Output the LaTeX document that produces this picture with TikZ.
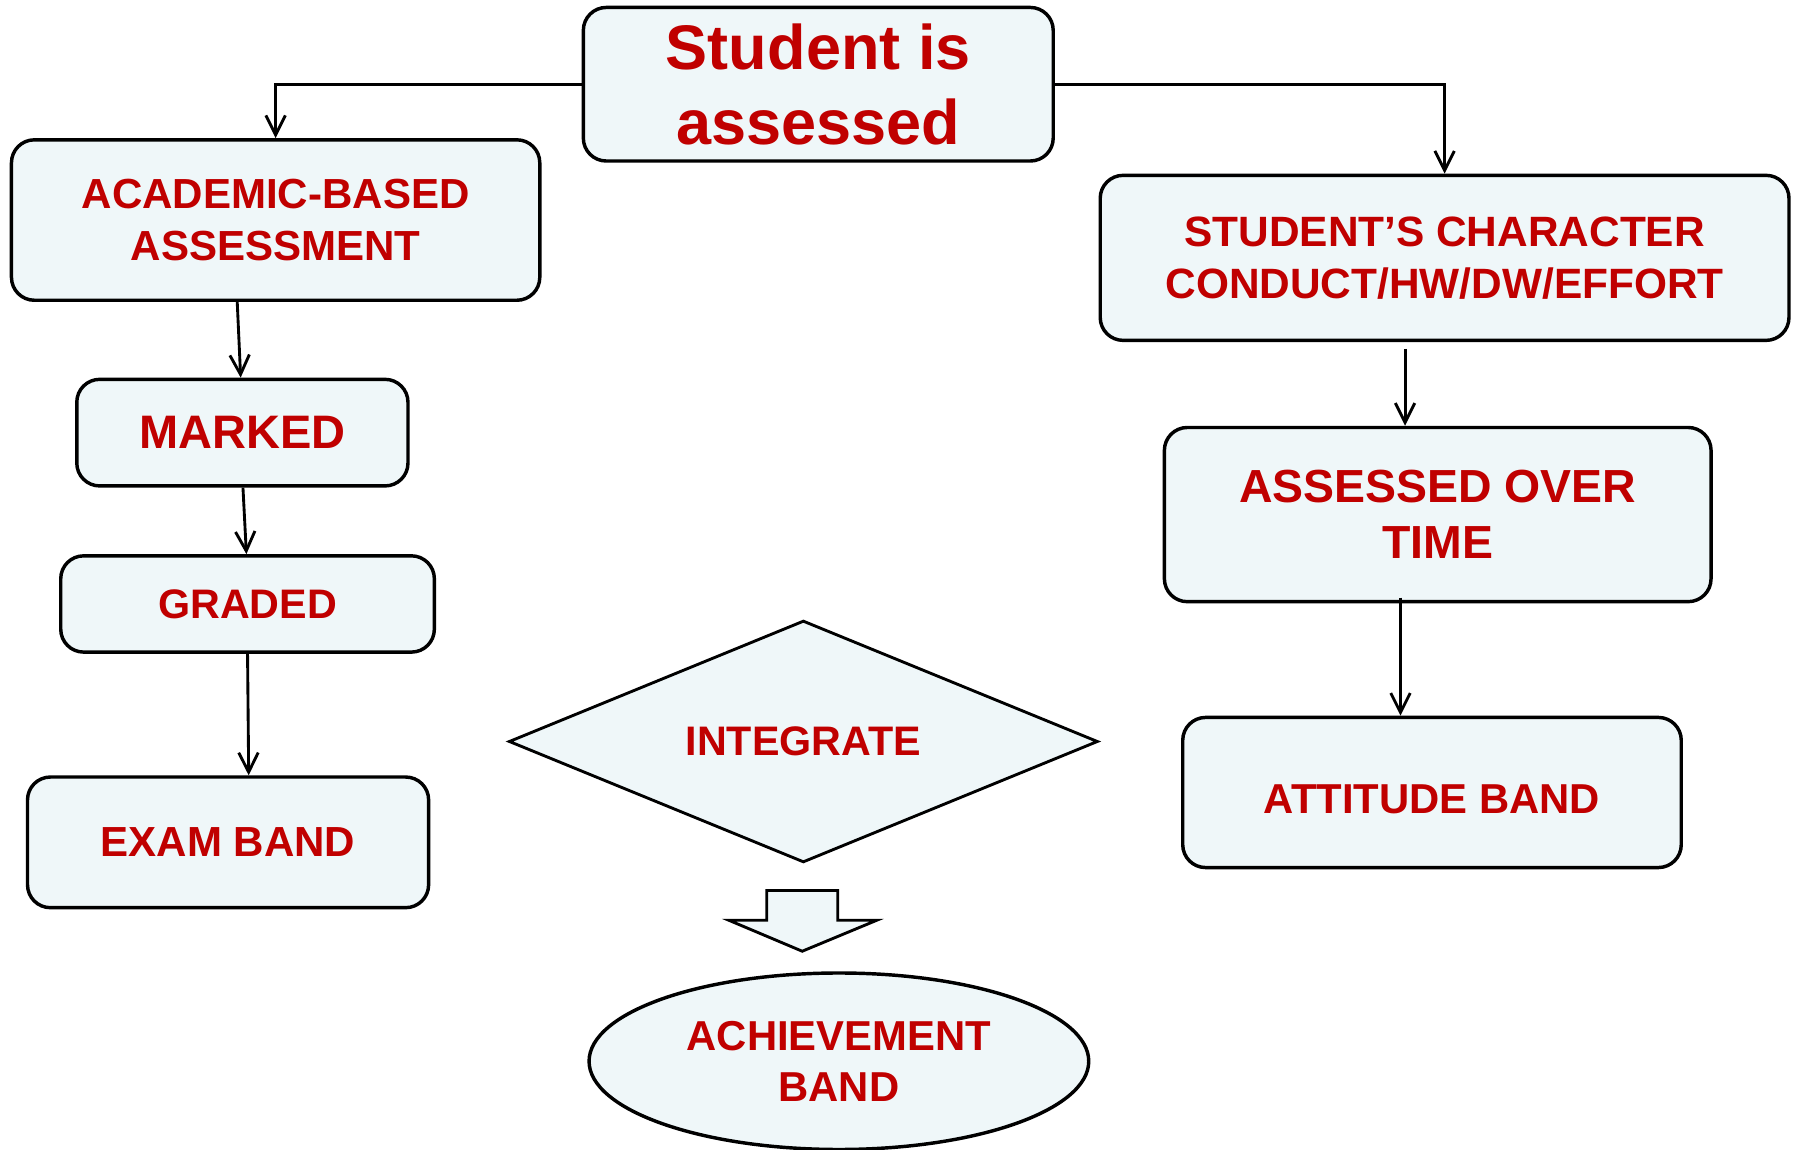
\documentclass[tikz,border=0pt]{standalone}
\usepackage{fontspec}
\setmainfont{Liberation Sans}
\usetikzlibrary{arrows.meta,shapes.geometric}
\definecolor{boxred}{HTML}{C00000}
\definecolor{boxfill}{HTML}{EFF7F9}
\begin{document}
\begin{tikzpicture}[x=1pt, y=-1pt, >={Straight Barb[length=17pt, width=17pt]},
    box/.style={draw, line width=3pt, fill=boxfill, rounded corners=20pt,
        inner sep=0pt, align=center, text=boxred},
    conn/.style={->, line width=2.5pt}]
    \useasboundingbox (0,0) rectangle (1568,1003);
    % Верхний блок
    \node[box, minimum width=410pt, minimum height=134pt,
    font=\fontsize{55}{65}\selectfont\bfseries] (top) at (714,73.5)
    {Student is\\assessed};
    % Левая ветка
    \node[box, minimum width=461pt, minimum height=140pt,
    font=\fontsize{36.7}{45}\selectfont\bfseries] (acad) at (240.5,192)
    {ACADEMIC-BASED\\ASSESSMENT};
    \node[box, minimum width=289pt, minimum height=93pt,
    font=\fontsize{41}{49}\selectfont\bfseries] (marked) at (211.5,377.5)
    {MARKED};
    \node[box, minimum width=326pt, minimum height=84pt,
    font=\fontsize{36}{44}\selectfont\bfseries] (graded) at (216,527)
    {GRADED};
    \node[box, minimum width=350pt, minimum height=114pt,
    font=\fontsize{36.7}{45}\selectfont\bfseries] (exam) at (199,735)
    {EXAM BAND};
    % Правая ветка
    \node[box, minimum width=601pt, minimum height=144pt,
    font=\fontsize{37}{45}\selectfont\bfseries] (char) at (1260.5,225)
    {STUDENT’S CHARACTER\\CONDUCT/HW/DW/EFFORT};
    \node[box, minimum width=477pt, minimum height=152pt,
    font=\fontsize{40.5}{49}\selectfont\bfseries] (overtime) at (1254.5,449)
    {ASSESSED OVER\\TIME};
    \node[box, minimum width=435pt, minimum height=131pt, text height=37pt,
    font=\fontsize{36.5}{45}\selectfont\bfseries] (attitude) at (1249.5,691.5)
    {ATTITUDE BAND};
    % Ромб и итог
    \node[box, diamond, rounded corners=0pt, line width=2.5pt, aspect=2.44,
    minimum width=514pt, minimum height=211pt,
    font=\fontsize{36}{44}\selectfont\bfseries] (integ) at (701,647)
    {INTEGRATE};
    \draw[line width=2.5pt, fill=boxfill, line join=miter] (669,777) -- (731,777)
    -- (731,803) -- (765,803) -- (700,830) -- (636,803) -- (669,803) -- cycle;
    \node[box, ellipse, rounded corners=0pt, minimum width=436pt, minimum height=154pt,
    font=\fontsize{36.5}{44}\selectfont\bfseries] (achieve) at (732,926)
    {ACHIEVEMENT\\BAND};

    \draw[conn] (top.west) -| (acad.north);
    \draw[conn] (top.east) -| (char.north);
    \draw[conn] ([xshift=-33.5pt]acad.south) -- ([xshift=-1.5pt]marked.north);
    \draw[conn] ([xshift=0.5pt]marked.south) -- ([xshift=-1pt]graded.north);
    \draw[conn] (graded.south) -- ([xshift=18pt]exam.north);
    \draw[conn] ([xshift=-34.5pt, yshift=-6pt]char.south)
    -- ([xshift=-28.5pt]overtime.north);
    \draw[conn] ([xshift=-32.5pt, yshift=5pt]overtime.south)
    -- ([xshift=-27.5pt]attitude.north);
\end{tikzpicture}
\end{document}
